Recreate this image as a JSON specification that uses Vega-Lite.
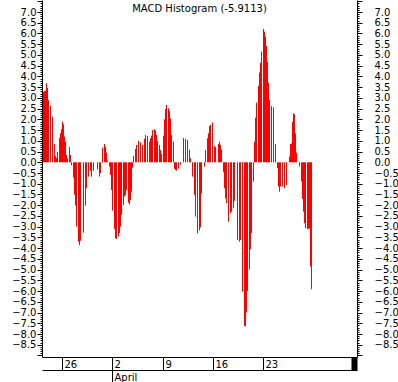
{
 "$schema": "https://vega.github.io/schema/vega-lite/v6.json",
 "width": 315,
 "height": 357,
 "autosize": {"type": "none"},
 "padding": {"left": 42, "top": 0, "right": 41, "bottom": 25},
 "background": "white",
 "title": {"text": "MACD Histogram (-5.9113)", "font": "DejaVu Sans", "fontSize": 10, "fontWeight": "normal", "color": "black", "anchor": "middle", "baseline": "top", "offset": -18, "frame": "group"},
 "config": {"view": {"stroke": null}, "axis": {"domainColor": "black", "tickColor": "black", "labelColor": "black", "labelFont": "DejaVu Sans", "labelFontSize": 10, "grid": false, "labelOverlap": false, "labelBound": false, "labelFlush": false}},
 "data": {"values": [
  {"bar":0,"hist":3.29},{"bar":1,"hist":3.32},{"bar":2,"hist":3.33},{"bar":3,"hist":3.68},{"bar":4,"hist":3.47},{"bar":5,"hist":2.9},{"bar":7,"hist":2.64},{"bar":9,"hist":2.12},{"bar":11,"hist":0.85},{"bar":12,"hist":0.3},{"bar":13,"hist":0.21},{"bar":14,"hist":0.49},{"bar":16,"hist":1.13},{"bar":17,"hist":1.35},{"bar":18,"hist":1.54},{"bar":19,"hist":1.89},{"bar":20,"hist":1.77},{"bar":21,"hist":1.2},{"bar":22,"hist":0.96},{"bar":23,"hist":0.34},{"bar":24,"hist":0.19},{"bar":26,"hist":0.71},{"bar":27,"hist":0.34},{"bar":28,"hist":-0.14},{"bar":30,"hist":-0.71},{"bar":31,"hist":-1.51},{"bar":32,"hist":-2.01},{"bar":33,"hist":-3.0},{"bar":35,"hist":-3.7},{"bar":36,"hist":-3.87},{"bar":37,"hist":-3.66},{"bar":40,"hist":-3.28},{"bar":42,"hist":-2.02},{"bar":43,"hist":-1.21},{"bar":45,"hist":-0.67},{"bar":47,"hist":-0.4},{"bar":48,"hist":-0.67},{"bar":50,"hist":-0.4},{"bar":54,"hist":-0.33},{"bar":56,"hist":-0.67},{"bar":57,"hist":-0.51},{"bar":59,"hist":0.68},{"bar":61,"hist":0.85},{"bar":62,"hist":0.73},{"bar":63,"hist":0.45},{"bar":64,"hist":0.08},{"bar":66,"hist":-0.2},{"bar":67,"hist":-0.59},{"bar":68,"hist":-1.29},{"bar":69,"hist":-2.25},{"bar":71,"hist":-3.1},{"bar":72,"hist":-3.54},{"bar":73,"hist":-3.57},{"bar":75,"hist":-3.46},{"bar":76,"hist":-3.3},{"bar":77,"hist":-3.0},{"bar":78,"hist":-2.45},{"bar":80,"hist":-1.99},{"bar":81,"hist":-1.6},{"bar":82,"hist":-1.52},{"bar":83,"hist":-1.29},{"bar":85,"hist":-1.88},{"bar":86,"hist":-1.96},{"bar":87,"hist":-1.75},{"bar":88,"hist":-1.37},{"bar":89,"hist":-0.25},{"bar":90,"hist":0.3},{"bar":92,"hist":0.62},{"bar":93,"hist":0.81},{"bar":95,"hist":1.0},{"bar":97,"hist":0.93},{"bar":99,"hist":0.81},{"bar":101,"hist":1.09},{"bar":102,"hist":1.27},{"bar":104,"hist":1.23},{"bar":106,"hist":0.96},{"bar":107,"hist":1.12},{"bar":108,"hist":1.24},{"bar":109,"hist":1.5},{"bar":111,"hist":1.54},{"bar":112,"hist":1.48},{"bar":113,"hist":1.27},{"bar":114,"hist":1.0},{"bar":116,"hist":0.81},{"bar":117,"hist":0.57},{"bar":118,"hist":0.39},{"bar":120,"hist":1.24},{"bar":121,"hist":2.0},{"bar":122,"hist":2.48},{"bar":123,"hist":2.67},{"bar":125,"hist":2.52},{"bar":126,"hist":2.4},{"bar":127,"hist":2.05},{"bar":128,"hist":1.27},{"bar":130,"hist":0.96},{"bar":131,"hist":-0.3},{"bar":132,"hist":-0.36},{"bar":133,"hist":-0.39},{"bar":135,"hist":-0.3},{"bar":137,"hist":-0.12},{"bar":140,"hist":1.13},{"bar":142,"hist":1.09},{"bar":144,"hist":1.04},{"bar":146,"hist":0.57},{"bar":147,"hist":0.19},{"bar":149,"hist":-0.67},{"bar":151,"hist":-1.52},{"bar":152,"hist":-2.53},{"bar":154,"hist":-3.31},{"bar":156,"hist":-3.18},{"bar":157,"hist":-3.03},{"bar":158,"hist":-1.46},{"bar":161,"hist":-0.2},{"bar":162,"hist":0.57},{"bar":164,"hist":1.12},{"bar":165,"hist":1.35},{"bar":166,"hist":1.69},{"bar":167,"hist":1.74},{"bar":169,"hist":1.85},{"bar":171,"hist":0.76},{"bar":172,"hist":0.7},{"bar":175,"hist":0.85},{"bar":176,"hist":0.96},{"bar":177,"hist":0.81},{"bar":178,"hist":0.6},{"bar":180,"hist":-0.45},{"bar":181,"hist":-1.21},{"bar":182,"hist":-1.68},{"bar":183,"hist":-1.91},{"bar":185,"hist":-2.77},{"bar":187,"hist":-2.38},{"bar":188,"hist":-2.3},{"bar":190,"hist":-2.14},{"bar":191,"hist":-1.8},{"bar":194,"hist":-3.62},{"bar":196,"hist":-3.7},{"bar":197,"hist":-3.62},{"bar":199,"hist":-6.03},{"bar":201,"hist":-7.62},{"bar":202,"hist":-7.65},{"bar":203,"hist":-7.0},{"bar":204,"hist":-6.0},{"bar":206,"hist":-5.0},{"bar":207,"hist":-4.05},{"bar":208,"hist":-3.3},{"bar":210,"hist":-0.9},{"bar":211,"hist":0.96},{"bar":212,"hist":2.08},{"bar":213,"hist":2.78},{"bar":215,"hist":3.56},{"bar":216,"hist":4.18},{"bar":217,"hist":4.64},{"bar":218,"hist":5.16},{"bar":220,"hist":6.21},{"bar":221,"hist":6.09},{"bar":222,"hist":5.85},{"bar":223,"hist":5.42},{"bar":224,"hist":4.69},{"bar":225,"hist":3.71},{"bar":226,"hist":2.9},{"bar":228,"hist":2.62},{"bar":230,"hist":2.56},{"bar":232,"hist":0.85},{"bar":234,"hist":-0.28},{"bar":235,"hist":-1.13},{"bar":236,"hist":-1.37},{"bar":237,"hist":-1.13},{"bar":239,"hist":-1.13},{"bar":241,"hist":-1.21},{"bar":243,"hist":-1.06},{"bar":246,"hist":0.26},{"bar":247,"hist":0.85},{"bar":248,"hist":0.88},{"bar":249,"hist":1.89},{"bar":250,"hist":2.28},{"bar":251,"hist":2.24},{"bar":252,"hist":1.35},{"bar":253,"hist":0.45},{"bar":256,"hist":-0.2},{"bar":258,"hist":-0.9},{"bar":259,"hist":-1.71},{"bar":260,"hist":-2.3},{"bar":261,"hist":-2.84},{"bar":262,"hist":-3.07},{"bar":264,"hist":-3.12},{"bar":265,"hist":-3.1},{"bar":266,"hist":-3.07},{"bar":267,"hist":-4.86},{"bar":268,"hist":-5.91}
 ]},
 "layer": [
  {
   "mark": {"type": "rule", "color": "#ff0000", "strokeWidth": 1},
   "encoding": {
    "x": {"field": "bar", "type": "quantitative", "scale": {"domain": [-1.5, 313.5], "nice": false, "zero": false},
          "axis": {"orient": "bottom", "title": null, "values": [18.5, 68.5, 119.5, 169.5, 219.5, 310],
                   "labelExpr": "datum.value == 18.5 ? '26' : datum.value == 68.5 ? '2' : datum.value == 119.5 ? '9' : datum.value == 169.5 ? '16' : datum.value == 219.5 ? '23' : ''",
                   "tickSize": 13, "tickWidth": {"condition": {"test": "datum.value == 310", "value": 6}, "value": 1},
                   "labelAlign": "left", "labelBaseline": "top", "labelOffset": 2, "labelPadding": -11}},
    "y": {"field": "hist", "type": "quantitative", "scale": {"domain": [-9.07, 7.56], "nice": false},
          "axis": {"orient": "left", "title": null, "tickCount": 166,
                   "labelExpr": "datum.value > -8.55 && datum.value < 7.05 && abs(round(datum.value*10)) % 5 == 0 ? format(datum.value, '.1f') : ''",
                   "tickSize": {"condition": {"test": "abs(round(datum.value*10)) % 5 == 0", "value": 5}, "value": 2},
                   "labelPadding": 1, "labelAlign": "right", "labelBaseline": "middle"}},
    "y2": {"datum": 0}
   }
  },
  {
   "mark": {"type": "rule", "opacity": 0},
   "encoding": {
    "x": {"field": "bar", "type": "quantitative",
          "axis": {"orient": "bottom", "title": null, "offset": 13, "values": [68.5], "labelExpr": "'April'",
                   "tickSize": 12, "labelAlign": "left", "labelBaseline": "top", "labelOffset": 2, "labelPadding": -10}},
    "y": {"field": "hist", "type": "quantitative",
          "axis": {"orient": "right", "title": null, "tickCount": 166,
                   "labelExpr": "datum.value > -8.55 && datum.value < 7.05 && abs(round(datum.value*10)) % 5 == 0 ? format(datum.value, '.1f') : ''",
                   "tickSize": {"condition": {"test": "abs(round(datum.value*10)) % 5 == 0", "value": 5}, "value": 2},
                   "labelPadding": 12, "labelAlign": "left", "labelBaseline": "middle"}},
    "y2": {"datum": 0}
   }
  }
 ],
 "resolve": {"axis": {"x": "independent", "y": "independent"}}
}
